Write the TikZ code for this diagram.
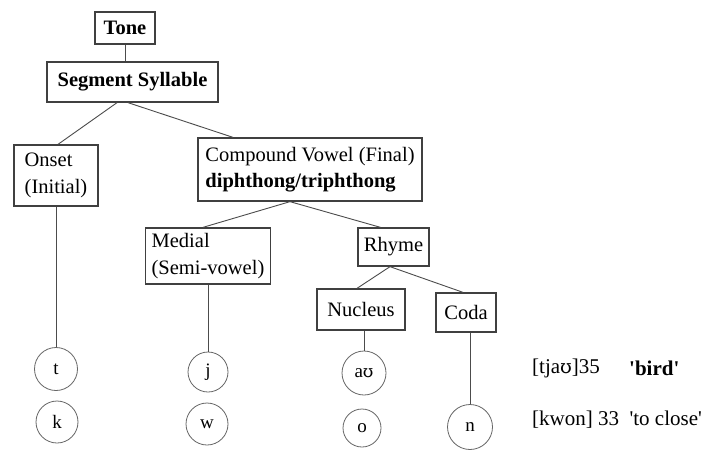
\documentclass[tikz,border=0pt]{standalone}
\usepackage{fontspec}
\setmainfont{Liberation Serif}
\newfontfamily\ipafont{DejaVu Serif}
\newcommand{\sq}{\textquotesingle}
\begin{document}
\begin{tikzpicture}[x=1pt,y=-1pt,
  box/.style={draw=black!75, line width=1.3pt, inner sep=0pt, align=left,
    font=\fontsize{20.5}{26.5}\selectfont},
  edge/.style={draw=black!70, line width=0.9pt},
  ph/.style={circle, draw=black!60, line width=0.8pt, inner sep=0pt,
    font=\fontsize{19}{20}\selectfont},
  lab/.style={anchor=west, inner sep=0pt, font=\fontsize{21}{24}\selectfont}]
\useasboundingbox (0,0) rectangle (712,450);
\fill[white] (0,0) rectangle (712,450);

% boxes
\node[box, minimum width=60pt, minimum height=32pt] (tone) at (125,28) {\textbf{Tone}};
\node[box, minimum width=171pt, minimum height=40pt] (seg) at (132.5,82) {\textbf{Segment Syllable}};
\node[box, minimum width=84pt, minimum height=61pt] (onset) at (56,175.5) {Onset\\(Initial)};
\node[box, minimum width=224pt, minimum height=63pt] (cv) at (310,169.5) {Compound Vowel (Final)\\\textbf{diphthong/triphthong}};
\node[box, minimum width=125pt, minimum height=56pt] (medial) at (208,256) {Medial\\(Semi-vowel)};
\node[box, minimum width=71pt, minimum height=38pt] (rhyme) at (393.5,247) {Rhyme};
\node[box, minimum width=88pt, minimum height=41pt] (nucleus) at (361,309.5) {Nucleus};
\node[box, minimum width=60pt, minimum height=39pt] (coda) at (466,312.5) {Coda};

% phoneme circles
\node[ph, minimum size=43pt] (t) at (56,369) {t};
\node[ph, minimum size=42pt] (k) at (57,422) {k};
\node[ph, minimum size=40pt] (j) at (208,372) {j};
\node[ph, minimum size=42pt] (w) at (207,424) {w};
\node[ph, minimum size=44pt] (au) at (364,373) {a{\ipafont\fontsize{17}{20}\selectfont ʊ}};
\node[ph, minimum size=38pt] (o) at (362,428) {o};
\node[ph, minimum size=45pt] (n) at (470,427) {n};

% example labels
\node[lab] (ex1) at (532,368) {[tja{\ipafont\fontsize{19}{20}\selectfont ʊ}]35};
\node[lab] (gl1) at (629,368) {\textbf{\sq bird\sq}};
\node[lab] (ex2) at (532,420) {[kwon] 33 \ \sq to close\sq};

% connectors
\draw[edge] (tone.south) -- (tone.south |- seg.north);
\draw[edge] ([xshift=-15.5pt]seg.south) -- ([xshift=2pt]onset.north);
\draw[edge] ([xshift=-4.5pt]seg.south) -- ([xshift=-77pt]cv.north);
\draw[edge] ([xshift=-20pt]cv.south) -- ([xshift=-5pt]medial.north);
\draw[edge] ([xshift=-20pt]cv.south) -- ([xshift=-13pt]rhyme.north);
\draw[edge] ([xshift=-3.5pt]rhyme.south) -- ([xshift=-4pt]nucleus.north);
\draw[edge] ([xshift=-3.5pt]rhyme.south) -- ([xshift=-3pt]coda.north);
\draw[edge] (onset.south) -- (t.north);
\draw[edge] (medial.south) -- (j.north);
\draw[edge] ([xshift=3pt]nucleus.south) -- (au.north);
\draw[edge] ([xshift=4pt]coda.south) -- (n.north);
\end{tikzpicture}
\end{document}
